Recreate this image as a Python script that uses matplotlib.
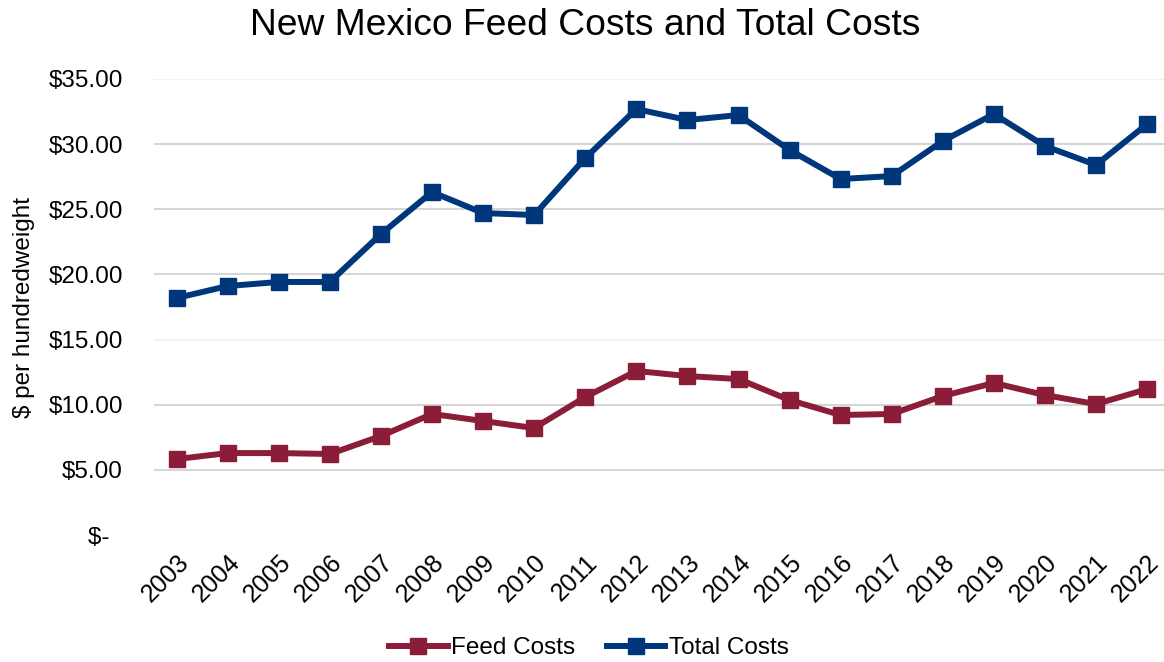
import matplotlib
matplotlib.use("Agg")
import matplotlib.pyplot as plt

plt.rcParams['font.family'] = ['Liberation Sans', 'DejaVu Sans']

years = [2003, 2004, 2005, 2006, 2007, 2008, 2009, 2010, 2011, 2012,
         2013, 2014, 2015, 2016, 2017, 2018, 2019, 2020, 2021, 2022]
feed_costs = [5.83, 6.29, 6.29, 6.22, 7.60, 9.29, 8.75, 8.21, 10.59, 12.59,
              12.20, 11.97, 10.36, 9.21, 9.29, 10.67, 11.67, 10.74, 10.05, 11.20]
total_costs = [18.19, 19.11, 19.42, 19.42, 23.10, 26.32, 24.71, 24.56, 28.93, 32.69,
               31.85, 32.23, 29.55, 27.32, 27.55, 30.24, 32.31, 29.85, 28.40, 31.54]
y_ticks = [0, 5, 10, 15, 20, 25, 30, 35]
y_labels = ['$-  ', '$5.00', '$10.00', '$15.00', '$20.00', '$25.00', '$30.00', '$35.00']

feed_color = '#8C1D38'
total_color = '#00377B'

fig = plt.figure(figsize=(11.64, 6.62), dpi=100)
ax = fig.add_axes([0.132, 0.1918, 0.868, 0.6889])

ax.plot(years, feed_costs, color=feed_color, lw=4.3, marker='s', ms=11,
        label='Feed Costs')
ax.plot(years, total_costs, color=total_color, lw=4.3, marker='s', ms=11,
        label='Total Costs')

ax.set_xlim(2002.55, 2022.33)
ax.set_ylim(0, 35)
ax.set_xticks(years)
ax.set_xticklabels([str(y) for y in years], rotation=45, ha='right',
                   rotation_mode='anchor', fontsize=18)
ax.set_yticks(y_ticks)
ax.set_yticklabels(y_labels, fontsize=17.5)
ax.tick_params(axis='y', length=0, pad=22)
ax.tick_params(axis='x', length=0, pad=11)

for s in ax.spines.values():
    s.set_visible(False)
for t in y_ticks[1:]:
    c = '#f2f2f2' if t in (15, 35) else '#d6d6d6'
    ax.axhline(t, color=c, lw=1.5, zorder=0)

ax.set_ylabel('$ per hundredweight', fontsize=17.5, labelpad=10)
fig.text(0.503, 0.962, 'New Mexico Feed Costs and Total Costs', ha='center',
         va='center', fontsize=26.8)

fig.legend(loc='center', bbox_to_anchor=(0.506, 0.021), ncol=2, frameon=False,
           fontsize=17.5, handlelength=2.4, handletextpad=0.15, columnspacing=1.3)

fig.savefig('out.png', dpi=100)
